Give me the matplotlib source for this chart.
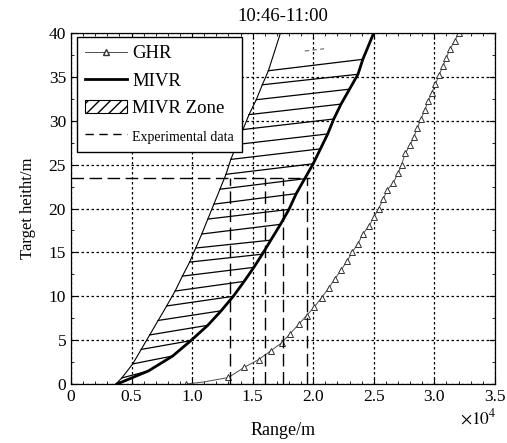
import numpy as np
import matplotlib
matplotlib.use('Agg')
import matplotlib.pyplot as plt
from matplotlib.patches import Patch
from matplotlib.lines import Line2D

plt.rcParams['font.family'] = ['Liberation Serif', 'DejaVu Serif']
plt.rcParams['mathtext.fontset'] = 'stix'

# range in units of 1e4 m, height in m
# GHR curve
ghr_x = [0.95, 1.10, 1.30, 1.43, 1.55, 1.65, 1.74, 1.81, 1.88, 1.945, 2.01, 2.07,
         2.13, 2.18, 2.23, 2.28, 2.32, 2.37, 2.41, 2.46, 2.50, 2.54, 2.58, 2.61,
         2.66, 2.70, 2.73, 2.76, 2.80, 2.83, 2.86, 2.89, 2.92, 2.95, 2.98, 3.01,
         3.04, 3.07, 3.10, 3.13, 3.17, 3.20]
ghr_y = [0, 0.25, 0.75, 1.9, 2.8, 3.8, 4.7, 5.75, 6.8, 7.8, 8.8, 9.85,
         11.0, 12.0, 13.0, 14.0, 15.0, 16.0, 17.1, 18.0, 19.0, 20.0, 21.1, 22.1,
         22.9, 24.0, 25.0, 26.3, 27.2, 28.1, 29.2, 30.2, 31.2, 32.2, 33.2, 34.2,
         35.2, 36.2, 37.2, 38.2, 39.1, 40.0]

# MIVR curve (lower/right edge of the zone)
mivr_x = [0.38, 0.64, 0.84, 0.99, 1.13, 1.24, 1.34, 1.43, 1.51, 1.58, 1.65, 1.73,
          1.80, 1.86, 1.93, 2.00, 2.06, 2.12, 2.17, 2.23, 2.30, 2.37, 2.41, 2.50]
mivr_y = [0.0, 1.5, 3.2, 4.95, 6.7, 8.35, 10.0, 11.7, 13.3, 14.8, 16.4, 18.2,
          19.9, 21.7, 23.4, 25.1, 26.8, 28.5, 30.2, 31.9, 33.6, 35.3, 37.0, 40.0]

# upper/left edge of the MIVR zone
zone_x = [0.37, 0.42, 0.51, 0.58, 0.65, 0.72, 0.79, 0.86, 0.92, 0.98, 1.03, 1.08,
          1.13, 1.18, 1.23, 1.28, 1.32, 1.37, 1.42, 1.47, 1.53, 1.58, 1.63, 1.73]
zone_y = [0.0, 0.7, 2.3, 3.95, 5.6, 7.25, 8.9, 10.6, 12.3, 13.9, 15.5, 17.1,
          18.8, 20.5, 22.2, 23.9, 25.6, 27.3, 29.0, 30.7, 32.4, 34.1, 35.7, 40.0]

# experimental data
exp_h = 23.5
exp_r = [1.31, 1.60, 1.75, 1.95]
exp_r_end = 1.97

xticklabels = ['0', '0.5', '1.0', '1.5', '2.0', '2.5', '3.0', '3.5']

fig = plt.figure(figsize=(5.07, 4.43), dpi=100)
ax = fig.add_axes([0.140, 0.133, 0.836, 0.7925])

# hatch lines joining zone edge to MIVR curve
for i in range(1, len(zone_x) - 1):
    ax.plot([zone_x[i], mivr_x[i]], [zone_y[i], mivr_y[i]], color='k', lw=0.9)
ax.plot([1.93, 2.09], [37.95, 38.2], color='0.4', lw=0.8, ls=(0, (4, 3)))

ax.plot(zone_x, zone_y, color='k', lw=0.8)
ax.plot(mivr_x, mivr_y, color='k', lw=2.0)

ax.plot(ghr_x, ghr_y, color='0.3', lw=0.7, marker='^', ms=5, mfc='white',
        mec='0.2', mew=0.7, markevery=[0] + list(range(2, len(ghr_x))))

dash = (0, (9, 4))
ax.plot([0, exp_r_end], [exp_h, exp_h], color='k', lw=1.0, ls=dash)
for r in exp_r:
    ax.plot([r, r], [0, exp_h], color='k', lw=1.0, ls=dash)

ax.set_xlim(0, 3.5)
ax.set_ylim(0, 40)
ax.set_xticks(np.arange(0, 3.51, 0.5))
ax.set_xticklabels(xticklabels)
ax.set_yticks(np.arange(0, 41, 5))
ax.set_xticks(np.arange(0, 3.51, 0.1), minor=True)
ax.set_yticks(np.arange(0, 40.1, 2.5), minor=True)
ax.tick_params(which='both', direction='in', top=True, right=True, labelsize=12.5)
ax.tick_params(which='major', length=4)
ax.tick_params(which='minor', length=2.5)
ax.grid(True, which='major', color='k', lw=0.9, ls=(0, (2, 2)))
for s in ax.spines.values():
    s.set_linewidth(0.9)

ax.set_title('10:46-11:00', fontsize=13.5, pad=9)
ax.set_xlabel('Range/m', fontsize=13, labelpad=12)
ax.set_ylabel('Target heitht/m', fontsize=12, labelpad=9)
ax.text(1.005, -0.068, r'$\times10^4$', transform=ax.transAxes, ha='right',
        va='top', fontsize=12.5)

handles = [
    Line2D([], [], color='0.3', lw=0.7, marker='^', ms=5, mfc='white', mec='0.2'),
    Line2D([], [], color='k', lw=2.0),
    Patch(facecolor='white', edgecolor='k', hatch='///', lw=0.8),
    Line2D([], [], color='k', lw=1.0, ls=(0, (6, 4))),
]
labels = ['GHR', 'MIVR', 'MIVR Zone', 'Experimental data']
leg = ax.legend(handles, labels, loc='upper left', bbox_to_anchor=(0.014, 0.989),
                borderaxespad=0, fancybox=False, framealpha=1, edgecolor='k',
                fontsize=13.5, handlelength=2.2, handletextpad=0.3,
                labelspacing=0.55, borderpad=0.45)
leg.get_frame().set_linewidth(1.0)
leg.get_texts()[3].set_fontsize(10)
leg.set_zorder(5)

fig.savefig('out.png', dpi=100)
